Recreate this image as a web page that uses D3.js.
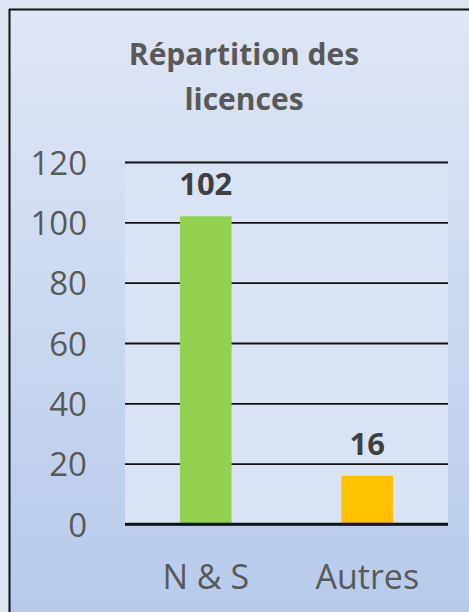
<!DOCTYPE html>
<html><head><meta charset="utf-8">
<script src="https://cdn.jsdelivr.net/npm/d3@7"></script>
<style>html,body{margin:0;padding:0;background:#dde5f3;}svg{display:block;}</style>
</head><body>
<svg id="c" width="469" height="612"></svg>
<script>
const categories = ["N & S", "Autres"];
const values = [102, 16];
const barColors = ["#92d050", "#ffc000"];
const tickValues = [0, 20, 40, 60, 80, 100, 120];
const titleLines = ["Répartition des", "licences"];

const svg = d3.select("#c");
const W = 469, H = 612;
const font = "'Open Sans', sans-serif";

const defs = svg.append("defs");
const grad = defs.append("linearGradient").attr("id","bg").attr("x1",0).attr("y1",0).attr("x2",0).attr("y2",1);
grad.append("stop").attr("offset","0%").attr("stop-color","#dfe6f4");
grad.append("stop").attr("offset","100%").attr("stop-color","#b7caea");

svg.append("rect").attr("width",W).attr("height",H).attr("fill","#dde5f3");
svg.append("rect").attr("x",9).attr("y",9).attr("width",W).attr("height",H).attr("fill","url(#bg)");
svg.append("line").attr("x1",9.5).attr("x2",9.5).attr("y1",9).attr("y2",H).attr("stroke","#111").attr("stroke-width",2);
svg.append("line").attr("x1",9).attr("x2",W).attr("y1",9.5).attr("y2",9.5).attr("stroke","#111").attr("stroke-width",2);

const m = {left:125, right:448, top:162, bottom:524};
const y = d3.scaleLinear().domain([0,120]).range([m.bottom, m.top]);
const x = d3.scaleBand().domain(categories).range([m.left, m.right]).paddingInner(0.68).paddingOuter(0.34);

svg.append("rect").attr("x",m.left).attr("y",m.top).attr("width",m.right-m.left).attr("height",m.bottom-m.top).attr("fill","#dae3f3");

// title
svg.append("g").selectAll("text").data(titleLines).join("text")
  .attr("x",244).attr("y",(d,i)=>65+i*45).attr("text-anchor","middle")
  .attr("font-family",font).attr("font-weight","bold").attr("font-size",30).attr("fill","#595959")
  .text(d=>d);

// y axis
const yAxis = d3.axisLeft(y).tickValues(tickValues).tickSize(-(m.right-m.left)).tickPadding(38);
const ga = svg.append("g").attr("transform",`translate(${m.left},0)`).call(yAxis);
ga.select(".domain").remove();
ga.selectAll(".tick line").attr("stroke","#111").attr("stroke-width",d=>d===0?2.5:1.8);
ga.selectAll(".tick text").attr("font-family",font).attr("font-size",33).attr("fill","#595959").attr("x",-38).attr("dy","0.37em");

// bars
svg.append("g").selectAll("rect").data(values).join("rect")
  .attr("x",(d,i)=>x(categories[i])).attr("width",x.bandwidth())
  .attr("y",d=>y(d)).attr("height",d=>y(0)-y(d)).attr("fill",(d,i)=>barColors[i]);

// redraw zero line over bars
svg.append("line").attr("x1",m.left).attr("x2",m.right).attr("y1",y(0)).attr("y2",y(0)).attr("stroke","#111").attr("stroke-width",2.5);

// data labels
svg.append("g").selectAll("text").data(values).join("text")
  .attr("x",(d,i)=>x(categories[i])+x.bandwidth()/2).attr("y",d=>y(d)-21)
  .attr("text-anchor","middle").attr("font-family",font).attr("font-weight","bold").attr("font-size",31).attr("fill","#404040")
  .text(d=>d);

// x axis labels
const xAxis = d3.axisBottom(x).tickSize(0).tickPadding(65);
const gx = svg.append("g").attr("transform",`translate(0,${m.bottom})`).call(xAxis);
gx.select(".domain").remove();
gx.selectAll(".tick text").attr("font-family",font).attr("font-size",34).attr("fill","#595959").attr("dy","0");
</script>
</body></html>
